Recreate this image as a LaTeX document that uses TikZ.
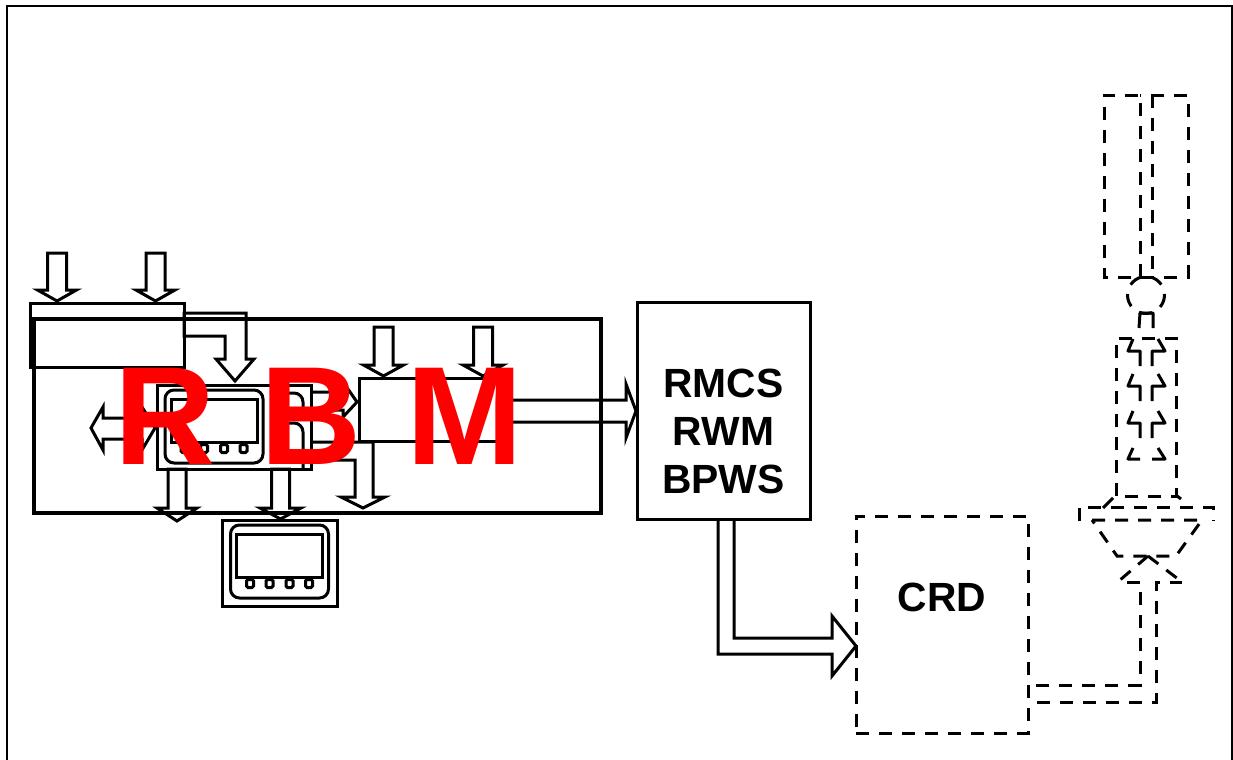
\documentclass[tikz,border=0pt]{standalone}
\usepackage{fontspec}
\setmainfont{Liberation Sans}
\usetikzlibrary{positioning}
\newlength{\px}
\setlength{\px}{0.75pt}
\definecolor{rbmred}{RGB}{255,0,0}
% block arrow pointing down: x, shaft top, head base, tip, half shaft, half head
\newcommand{\downblock}[6]{\draw[blockline] ({#1-#5},#2) -- ({#1-#5},#3) -- ({#1-#6},#3) -- (#1,#4) -- ({#1+#6},#3) -- ({#1+#5},#3) -- ({#1+#5},#2) -- cycle;}
% small display unit: centre x, top y
\newcommand{\displayunit}[2]{
	\draw[blockline, rounded corners=9\px] ({#1-49},#2) rectangle ({#1+49},{#2+73});
	\draw[blockline] ({#1-43},{#2+9}) rectangle ({#1+43},{#2+52});
	\foreach \dx in {-29.5,-10,10,29.5}
		\draw[blockline, rounded corners=1.5\px] ({#1+\dx-3.5},{#2+54.5}) rectangle ({#1+\dx+3.5},{#2+62.5});
}
\tikzset{
	blockline/.style={line width=3\px, line join=miter, miter limit=10},
	boxnode/.style={draw, line width=3\px, rectangle, inner sep=0pt, outer sep=0pt},
	dashline/.style={line width=3\px, dash pattern=on 13\px off 10\px},
	dashbit/.style={line width=3\px, line join=round},
	labelnode/.style={align=center, font=\fontsize{30.6}{36}\selectfont\bfseries}
}
\begin{document}
\begin{tikzpicture}[x=\px, y=-\px]
	\useasboundingbox (0,0) rectangle (1233,760);
	% Draw outer frame
	\draw[line width=2\px] (7,760) -- (7,6) -- (1232,6) -- (1232,760);

	% Draw boxes
	\node[boxnode, line width=4.5\px, minimum width=567\px, minimum height=194\px] (rbmbox) at (317.5,416) {};
	\node[boxnode, minimum width=154\px, minimum height=64\px] (inbox) at (107.5,335) {};
	\node[boxnode, minimum width=154\px, minimum height=84\px] (unitbox) at (234,427) {};
	\node[boxnode, minimum width=138\px, minimum height=63\px] (logicbox) at (428,409.5) {};
	\node[boxnode, minimum width=115\px, minimum height=86\px] (recbox) at (279.5,563) {};
	\node[boxnode, minimum width=173\px, minimum height=217\px] (rmcsbox) at (723.5,410.5) {};
	\node[labelnode] (rmcslabel) at (723.5,431) {RMCS\\[0pt]RWM\\[0pt]BPWS};
	\node[boxnode, dashline, minimum width=172\px, minimum height=217\px] (crdbox) at (942,624.5) {};
	\node[labelnode] (crdlabel) at (942,597) {CRD};

	% Draw display units
	\displayunit{214}{390}
	\displayunit{279.5}{525}
	\draw[blockline, rounded corners=9\px] (285,393) -- (303,393) -- (303,410);
	\draw[blockline, rounded corners=9\px] (285,423) -- (303,423) -- (303,469);

	% Draw input arrows
	\downblock{57}{253}{290}{301}{9.5}{19.5}
	\downblock{155.5}{253}{290}{301}{9.5}{19.5}
	\downblock{383.5}{327}{365}{376}{9.5}{20}
	\downblock{483}{327}{365}{376}{9.5}{20}

	% Draw output arrows
	\downblock{177}{469}{508}{521}{9}{20}
	\downblock{280.5}{469}{508}{519}{9}{20.5}

	% Draw bent and horizontal arrows
	\draw[blockline] (184,313) -- (246,313) -- (246,359) -- (254,359) -- (235,381) -- (216,359) -- (225,359) -- (225,336) -- (184,336) -- cycle;
	\draw[blockline] (311,442) -- (373,442) -- (373,497) -- (385,497) -- (363,508) -- (341,497) -- (355,497) -- (355,460) -- (311,460);
	\draw[blockline] (311,392) -- (343,392) -- (343,382) -- (357,402) -- (343,417) -- (343,410) -- (311,410);
	\draw[blockline] (137,418) -- (103,418) -- (103,407) -- (91,428) -- (103,450) -- (103,439) -- (142,439) -- (142,450) -- (155,428) -- (142,407) -- (142,418) -- cycle;
	\draw[blockline] (497,400) -- (626,400) -- (626,384) -- (636,411) -- (626,438) -- (626,422) -- (497,422);
	\draw[blockline] (718,519) -- (718,654) -- (832,654) -- (832,676) -- (856,646) -- (832,616) -- (832,638) -- (734,638) -- (734,519);

	% Draw rod outline
	\draw[dashline] (1140,277) -- (1140,95) -- (1104,95) -- (1104,277) -- (1188,277) -- (1188,95) -- (1140,95);
	\draw[dashline] (1152,95) -- (1152,277);
	\draw[dashline] (1146,295) circle (18.5);
	\draw[dashbit] (1139,328) -- (1140,313) -- (1153,313) -- (1153,328);
	\draw[dashline] (1116,496) -- (1116,338) -- (1176,338) -- (1176,496) -- (1116,496);

	% Draw shaft pieces
	\foreach \ypos in {351,386,423} {
		\draw[dashbit] (1133,\ypos-12) -- (1128,\ypos) -- (1140,\ypos) -- (1140,\ypos+15);
		\draw[dashbit] (1158,\ypos-12) -- (1165,\ypos) -- (1152,\ypos) -- (1152,\ypos+15);
	}
	\draw[dashbit] (1133,448) -- (1128,459) -- (1140,459);
	\draw[dashbit] (1158,448) -- (1165,459) -- (1152,459);

	% Draw drive housing
	\draw[dashbit] (1103,508) -- (1113,498);
	\draw[dashbit] (1177,496) -- (1181,499);
	\draw[dashline] (1079,521) -- (1079,507) -- (1213,507) -- (1213,521);
	\draw[dashline] (1092,520) -- (1202,520) -- (1176,556) -- (1117,556) -- cycle;
	\draw[dashline] (1148,556) -- (1120,580);
	\draw[dashline] (1148,556) -- (1182,582);

	% Draw drive connection
	\draw[dashline] (1036,685) -- (1140,685) -- (1140,582) -- (1124,582);
	\draw[dashline] (1037,702) -- (1156,702) -- (1156,582) -- (1182,582);

	% Draw overlay text
	\node[text=rbmred, font=\fontsize{105}{105}\selectfont\bfseries] (rbmlabel) at (319,416) {R\hspace{0.32em}B\hspace{0.32em}M};
\end{tikzpicture}
\end{document}
